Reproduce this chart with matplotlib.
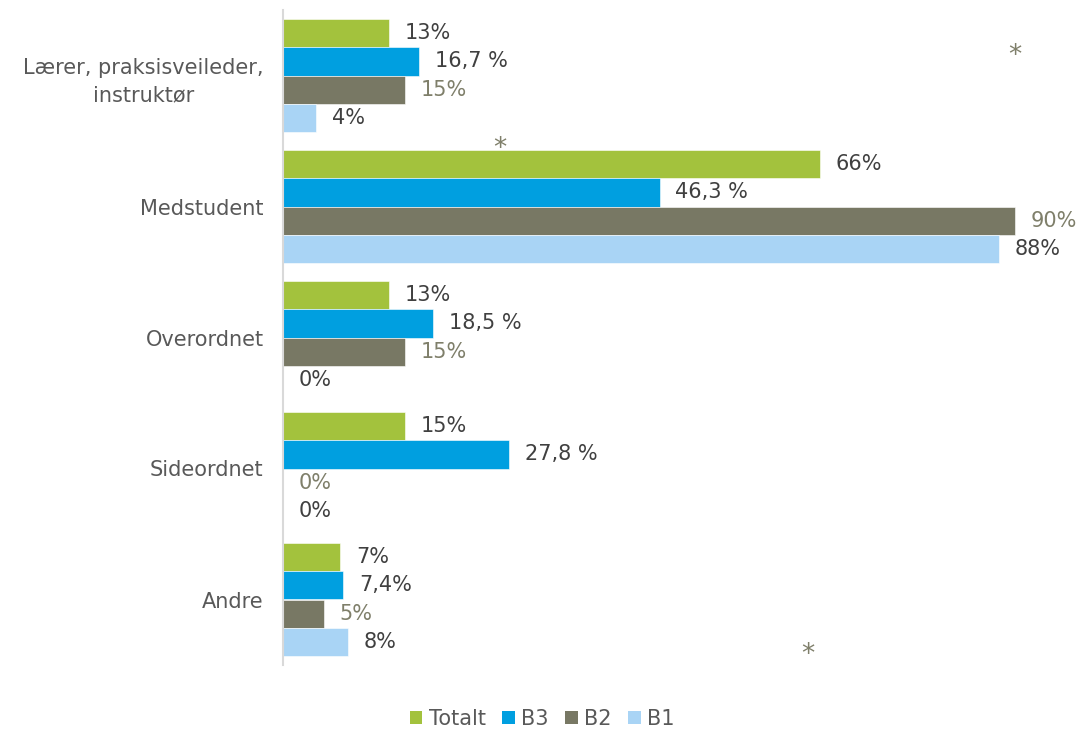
"""
Grouped horizontal bar chart: who the students turned to (Totalt, B3, B2, B1).
"""

import matplotlib
matplotlib.use("Agg")
import matplotlib.pyplot as plt
from matplotlib.patches import Patch

categories = ["Lærer, praksisveileder,\ninstruktør", "Medstudent", "Overordnet", "Sideordnet", "Andre"]
series_names = ["Totalt", "B3", "B2", "B1"]

totalt = [13, 66, 13, 15, 7]
b3 = [16.7, 46.3, 18.5, 27.8, 7.4]
b2 = [15, 90, 15, 0, 5]
b1 = [4, 88, 0, 0, 8]

totalt_labels = ["13%", "66%", "13%", "15%", "7%"]
b3_labels = ["16,7 %", "46,3 %", "18,5 %", "27,8 %", "7,4%"]
b2_labels = ["15%", "90%", "15%", "0%", "5%"]
b1_labels = ["4%", "88%", "0%", "0%", "8%"]

# significance markers (x in %, y in category units)
star_x = [90, 26.7, 64.5]
star_y = [-0.15, 0.56, 4.42]

COLORS = ["#A3C23D", "#009FE0", "#787864", "#A9D4F5"]
LABEL_COLORS = ["#404040", "#404040", "#7F7F6A", "#404040"]
TEXT = "#595959"
BAR_H = 0.214


def main():
    plt.rcParams["font.family"] = ["DejaVu Sans"]
    fig = plt.figure(figsize=(10.84, 7.31), dpi=100)
    ax = fig.add_axes([283 / 1084, 66 / 731, 1 - 283 / 1084, 655 / 731])

    values = [totalt, b3, b2, b1]
    labels = [totalt_labels, b3_labels, b2_labels, b1_labels]
    ypos = list(range(len(categories)))

    for s, (vals, labs) in enumerate(zip(values, labels)):
        offsets = [y + (s - 1.5) * BAR_H for y in ypos]
        ax.barh(offsets, vals, height=BAR_H, color=COLORS[s],
                edgecolor="white", linewidth=0.4)
        for y, v, lab in zip(offsets, vals, labs):
            ax.annotate(lab, (v, y), xytext=(11.5, 0), textcoords="offset points",
                        ha="left", va="center", fontsize=15,
                        color=LABEL_COLORS[s])

    for x, y in zip(star_x, star_y):
        ax.text(x, y, "*", ha="center", va="center", fontsize=19,
                color="#7F7F6A")

    ax.set_xlim(0, 98.5)
    ax.set_ylim(len(categories) - 0.5, -0.5)
    ax.set_yticks(ypos)
    ax.set_yticklabels(categories, fontsize=15, color=TEXT,
                       multialignment="center", linespacing=1.5)
    ax.tick_params(axis="y", length=0, pad=14)
    ax.set_xticks([])

    for side in ["top", "right", "bottom"]:
        ax.spines[side].set_visible(False)
    ax.spines["left"].set_color("#D9D9D9")
    ax.spines["left"].set_linewidth(1.5)

    handles = [Patch(facecolor=c, label=n) for c, n in zip(COLORS, series_names)]
    leg = fig.legend(handles=handles, loc="center", bbox_to_anchor=(0.5, 1 - 719 / 731),
                     ncol=4, frameon=False, fontsize=15, handlelength=0.6,
                     handleheight=0.6, handletextpad=0.3, columnspacing=0.8)
    for t in leg.get_texts():
        t.set_color(TEXT)

    fig.savefig("out.png", dpi=100)
    print("Saved to out.png")


if __name__ == "__main__":
    main()
